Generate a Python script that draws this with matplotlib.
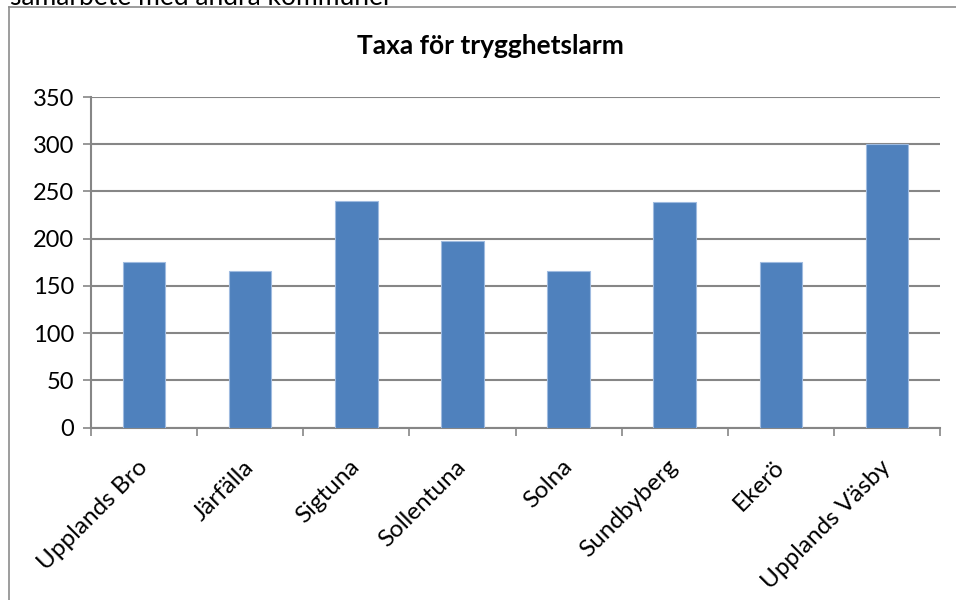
import matplotlib
matplotlib.use("Agg")
import matplotlib.pyplot as plt
from matplotlib.lines import Line2D

kommuner = ["Upplands Bro", "Järfälla", "Sigtuna", "Sollentuna",
            "Solna", "Sundbyberg", "Ekerö", "Upplands Väsby"]
taxa = [175, 166, 240, 197, 166, 239, 175, 300]
y_ticks = [0, 50, 100, 150, 200, 250, 300, 350]

plt.rcParams['font.family'] = ['Lato', 'DejaVu Sans']
grey = '#868686'

fig = plt.figure(figsize=(9.56, 6), dpi=100)
ax = fig.add_axes([91/956, 1 - 427.5/600, (940 - 91)/956, (427.5 - 97)/600])

x = list(range(len(kommuner)))
ax.bar(x, taxa, width=0.4, color='#4F81BD', edgecolor='#9fbbe0', linewidth=0.8, zorder=3)

ax.set_xlim(-0.5, len(kommuner) - 0.5)
ax.set_ylim(0, 350)
ax.set_yticks(y_ticks)
ax.set_yticklabels([str(v) for v in y_ticks], fontsize=17)
ax.grid(axis='y', color=grey, linewidth=1.5, zorder=0)

# x ticks sit between the categories, labels sit at the centres
ax.set_xticks([i - 0.5 for i in range(len(kommuner) + 1)])
ax.set_xticklabels([])
ax.set_xticks(x, minor=True)
ax.set_xticklabels(kommuner, minor=True, rotation=45, ha='right', va='center',
                   rotation_mode='anchor', fontsize=17.5)
ax.tick_params(axis='x', which='minor', length=0, pad=26)
ax.tick_params(axis='x', which='major', length=6, width=1.2, color=grey)
ax.tick_params(axis='y', length=6, width=1.2, color=grey, pad=6)

for s in ['top', 'right']:
    ax.spines[s].set_visible(False)
for s in ['left', 'bottom']:
    ax.spines[s].set_color(grey)
    ax.spines[s].set_linewidth(1.5)

fig.text(490/956, 1 - 46/600, "Taxa för trygghetslarm", ha='center', va='center',
         fontsize=19, fontweight='bold')

# chart frame and the cut-off line of text above it
fig.add_artist(Line2D([9/956, 9/956], [0, 1 - 7/600], color='#8c8c8c', linewidth=1.2))
fig.add_artist(Line2D([9/956, 1], [1 - 7/600, 1 - 7/600], color='#8c8c8c', linewidth=1.2))
fig.text(10/956, 1 - 5/600, "samarbete med andra kommuner", ha='left', va='baseline',
         fontsize=19)

fig.savefig("out.png", dpi=100)
